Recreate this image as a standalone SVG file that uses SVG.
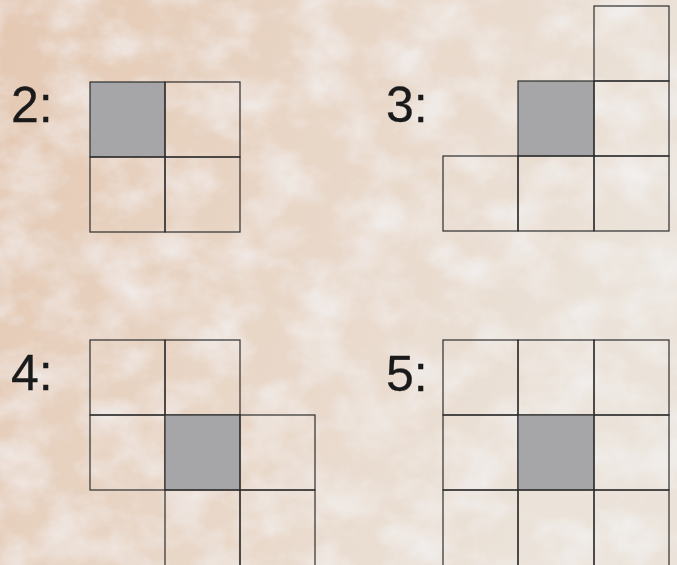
<svg xmlns="http://www.w3.org/2000/svg" width="677" height="565" viewBox="0 0 677 565">
<defs>
<linearGradient id="bg" x1="0" y1="0" x2="1" y2="0.3">
<stop offset="0" stop-color="#e4c8b2"/>
<stop offset="0.45" stop-color="#e8d5c5"/>
<stop offset="1" stop-color="#ebe3da"/>
</linearGradient>
<filter id="tex" x="0" y="0" width="100%" height="100%">
<feTurbulence type="fractalNoise" baseFrequency="0.02 0.025" numOctaves="5" seed="11" result="n"/>
<feColorMatrix in="n" type="matrix" values="0 0 0 0 0.92  0 0 0 0 0.92  0 0 0 0 0.94  0 0 0 1.3 -0.5" result="c"/>
<feComposite in="c" in2="SourceGraphic" operator="over"/>
</filter>
<style>
.cell{fill:none;stroke:#2e2e2e;stroke-width:1.2}
.gray{fill:#a6a6a8;stroke:#2e2e2e;stroke-width:1.2}
.lbl{font-family:"Liberation Sans",Arial,sans-serif;font-size:50px;fill:#1a1a1a;stroke:#1a1a1a;stroke-width:0.3}
</style>
</defs>
<rect width="677" height="565" fill="url(#bg)" filter="url(#tex)"/>
<g id="grid2">
<rect class="gray" x="90" y="82" width="75" height="75"/>
<rect class="cell" x="165" y="82" width="75" height="75"/>
<rect class="cell" x="90" y="157" width="75" height="75"/>
<rect class="cell" x="165" y="157" width="75" height="75"/>
<text class="lbl" x="11" y="122">2:</text>
</g>
<g id="grid3">
<rect class="cell" x="594" y="6" width="75" height="75"/>
<rect class="gray" x="518" y="81" width="76" height="75"/>
<rect class="cell" x="594" y="81" width="75" height="75"/>
<rect class="cell" x="443" y="156" width="75" height="75"/>
<rect class="cell" x="518" y="156" width="76" height="75"/>
<rect class="cell" x="594" y="156" width="75" height="75"/>
<text class="lbl" x="386" y="122">3:</text>
</g>
<g id="grid4">
<rect class="cell" x="90" y="340" width="75" height="75"/>
<rect class="cell" x="165" y="340" width="75" height="75"/>
<rect class="cell" x="90" y="415" width="75" height="75"/>
<rect class="gray" x="165" y="415" width="75" height="75"/>
<rect class="cell" x="240" y="415" width="75" height="75"/>
<rect class="cell" x="165" y="490" width="75" height="80"/>
<rect class="cell" x="240" y="490" width="75" height="80"/>
<text class="lbl" x="11" y="390">4:</text>
</g>
<g id="grid5">
<rect class="cell" x="443" y="340" width="75" height="75"/>
<rect class="cell" x="518" y="340" width="76" height="75"/>
<rect class="cell" x="594" y="340" width="75" height="75"/>
<rect class="cell" x="443" y="415" width="75" height="75"/>
<rect class="gray" x="518" y="415" width="76" height="75"/>
<rect class="cell" x="594" y="415" width="75" height="75"/>
<rect class="cell" x="443" y="490" width="75" height="80"/>
<rect class="cell" x="518" y="490" width="76" height="80"/>
<rect class="cell" x="594" y="490" width="75" height="80"/>
<text class="lbl" x="386" y="391">5:</text>
</g>
<g id="connectors"/>
</svg>
